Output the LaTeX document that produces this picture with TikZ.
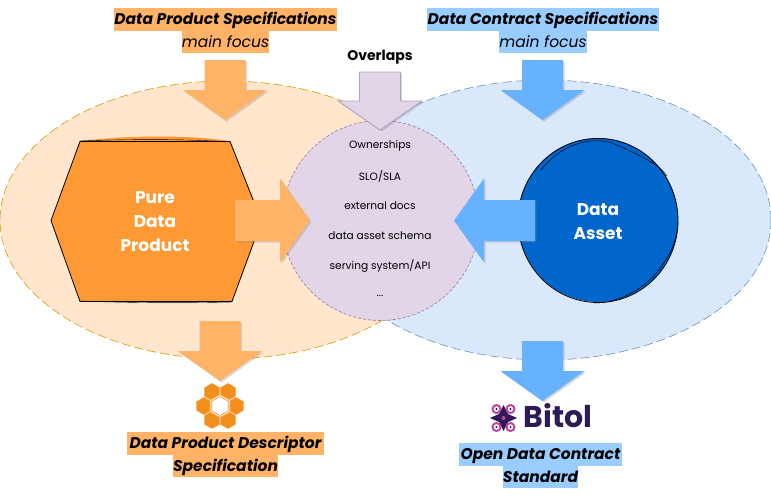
\documentclass[tikz,border=0pt]{standalone}
\usepackage{fontspec}
\setmainfont{Poppins}
\usetikzlibrary{shadows,shapes.geometric}
\definecolor{prodorange}{HTML}{FF9933}
\definecolor{prodarrow}{HTML}{FFB366}
\definecolor{prodfill}{HTML}{FFE6CC}
\definecolor{prodline}{HTML}{D79B00}
\definecolor{assetblue}{HTML}{0066CC}
\definecolor{assetarrow}{HTML}{66B2FF}
\definecolor{assetfill}{HTML}{DAE8FC}
\definecolor{assetline}{HTML}{6C8EBF}
\definecolor{assetlabel}{HTML}{99CCFF}
\definecolor{overlapfill}{HTML}{E1D5E7}
\definecolor{overlapline}{HTML}{9673A6}
\definecolor{hexorange}{HTML}{F28E1C}
\definecolor{bitolpurple}{HTML}{2E1A57}
\definecolor{bitolpink}{HTML}{C2459B}
\newcommand{\moreitems}{...}
\tikzset{
	speclabel/.style={inner xsep=0pt, inner ysep=0pt, text height=16.7pt, text depth=5.8pt, font=\fontsize{15.5}{18}\selectfont\bfseries\itshape},
	focuslabel/.style={inner xsep=0pt, inner ysep=0pt, text height=16.2pt, text depth=5.8pt, font=\fontsize{15.5}{18}\selectfont\itshape},
	bubble/.style={dashed, dash pattern=on 9pt off 4pt, line width=0.6pt},
	blockarrow/.style={drop shadow={shadow xshift=1.5pt, shadow yshift=-1.5pt, opacity=0.3}},
	whitetitle/.style={text=white, align=center, font=\fontsize{17}{24}\selectfont\bfseries},
	overlapitem/.style={font=\fontsize{10.6}{13}\selectfont},
	hexcell/.style={regular polygon, regular polygon sides=6, shape border rotate=30, inner sep=0pt}
}
\begin{document}
\begin{tikzpicture}[x=1pt, y=-1pt]
	\useasboundingbox (0,0) rectangle (771,496);

	% The two scopes
	\node[ellipse, draw=assetline, fill=assetfill, bubble, minimum width=452pt, minimum height=280pt, inner sep=0pt] (assetscope) at (545,220) {};
	\node[ellipse, draw=prodline, fill=prodfill, bubble, minimum width=452pt, minimum height=278pt, inner sep=0pt] (prodscope) at (226,220) {};
	\node[ellipse, draw=overlapline, fill=overlapfill, dashed, dash pattern=on 3pt off 2pt, line width=0.6pt, minimum width=197pt, minimum height=200pt, inner sep=0pt] (overlap) at (380.5,220.5) {};

	% Hexagon, with a second rough outline
	\fill[prodorange] (80,141) .. controls (130,135) and (190,135) .. (230,141) -- (262,221) -- (232,301) -- (80,301) -- (51,221) -- cycle;
	\draw[line width=0.8pt, line join=round] (80,141.5) -- (230,141.5) -- (261.5,221) -- (232,301.5) -- (80,301.5) -- (51,220.5) -- cycle;
	\draw[line width=0.4pt] (80,141) .. controls (130,139) and (190,139) .. (230,142);
	\draw[line width=0.4pt] (80,301) .. controls (130,303) and (190,303) .. (232,302);
	\node[whitetitle] (prodtitle) at (155,222) {Pure\\Data\\Product};

	% Circle, with rough outlines
	\fill[assetblue] (598,220) ellipse (80pt and 82pt);
	\draw[line width=0.8pt] (598,220.5) ellipse (80pt and 82pt);
	\draw[line width=0.5pt] (541,170) .. controls (560,145) and (590,136) .. (612,143) .. controls (640,155) and (660,165) .. (667,176);
	\draw[line width=0.5pt] (594,303) .. controls (640,303) and (677,260) .. (678,222);
	\node[whitetitle] (assettitle) at (598,222) {Data\\Asset};

	% Block arrows: x, y of the tip, angle, colour, length
	\foreach \x/\y/\ang/\col/\len in {
			225/120/0/prodarrow/60,
			542.5/120/0/assetarrow/60,
			220/381/0/prodarrow/60,
			542.5/401/0/assetarrow/60,
			310/220.5/90/prodarrow/75,
			454/220.5/-90/assetarrow/81} {
			\fill[\col, blockarrow, shift={(\x,\y)}, rotate=\ang] (-20.5,-\len) -- (20.5,-\len) -- (20.5,-30) -- (42,-30) -- (0,0) -- (-42,-30) -- (-20.5,-30) -- cycle;
		}
	\draw[fill=overlapfill, draw=overlapline!70, line width=0.8pt, blockarrow, shift={(380,130)}] (-20.5,-58) -- (20.5,-58) -- (20.5,-29) -- (42,-29) -- (0,0) -- (-42,-29) -- (-20.5,-29) -- cycle;
	\node[font=\fontsize{14}{16}\selectfont\bfseries] (overlaptitle) at (380,57) {Overlaps};

	% List of the overlaps
	\foreach \name/\y in {Ownerships/146, SLO\slash SLA/176, external docs/206, data asset schema/236, serving system\slash API/266, \moreitems/296} {
			\node[overlapitem] (item\y) at (380,\y) {\name};
		}

	% Labels
	\node[speclabel, fill=prodarrow, minimum width=223pt] (prodspec) at (225.5,19.5) {Data Product Specifications};
	\node[focuslabel, fill=prodarrow, minimum width=87pt] (prodfocus) at (225.5,42) {main focus};
	\node[speclabel, fill=assetlabel, minimum width=232pt] (assetspec) at (543,19.5) {Data Contract Specifications};
	\node[focuslabel, fill=assetlabel, minimum width=86pt] (assetfocus) at (543,42) {main focus};
	\node[speclabel, fill=prodarrow, minimum width=197pt] (descspec) at (225.5,443.5) {Data Product Descriptor};
	\node[speclabel, fill=prodarrow, minimum width=103pt] (descspec2) at (225.5,466) {Specification};
	\node[speclabel, fill=assetlabel, minimum width=163pt] (odcs) at (540.5,454.5) {Open Data Contract};
	\node[speclabel, fill=assetlabel, minimum width=75pt] (odcs2) at (540.5,477) {Standard};

	% Hexagon logo
	\foreach \x/\y in {212/392, 228/392, 204/406, 236/406, 212/420, 228/420} {
			\node[hexcell, fill=hexorange, draw=prodarrow, line width=0.4pt, minimum size=17.5pt] (hex\x-\y) at (\x,\y) {};
		}
	\node[hexcell, fill=white, draw=prodarrow, line width=1pt, minimum size=23pt] (hexcentre) at (220,406) {};
	\node[hexcell, draw=hexorange, line width=0.6pt, minimum size=19pt] (hexinner) at (220,406) {};

	% Bitol logo
	\fill[bitolpurple] (503.5,405) -- (508,414) -- (517,418) -- (508,422) -- (503.5,431) -- (499,422) -- (490,418) -- (499,414) -- cycle;
	\foreach \x/\y in {496.5/409, 510.5/409, 496.5/427, 510.5/427} {
			\node[circle, draw=bitolpink, line width=2pt, fill=white, minimum size=8pt, inner sep=0pt] (ring\x-\y) at (\x,\y) {};
			\fill[bitolpurple] (\x,\y) circle (1.2pt);
		}
	\fill[bitolpink] (503.5,418) circle (2pt);
	\node[text=bitolpurple, font=\fontsize{30}{32}\selectfont\bfseries, inner sep=0pt] (bitol) at (558,416) {Bitol};
\end{tikzpicture}
\end{document}
